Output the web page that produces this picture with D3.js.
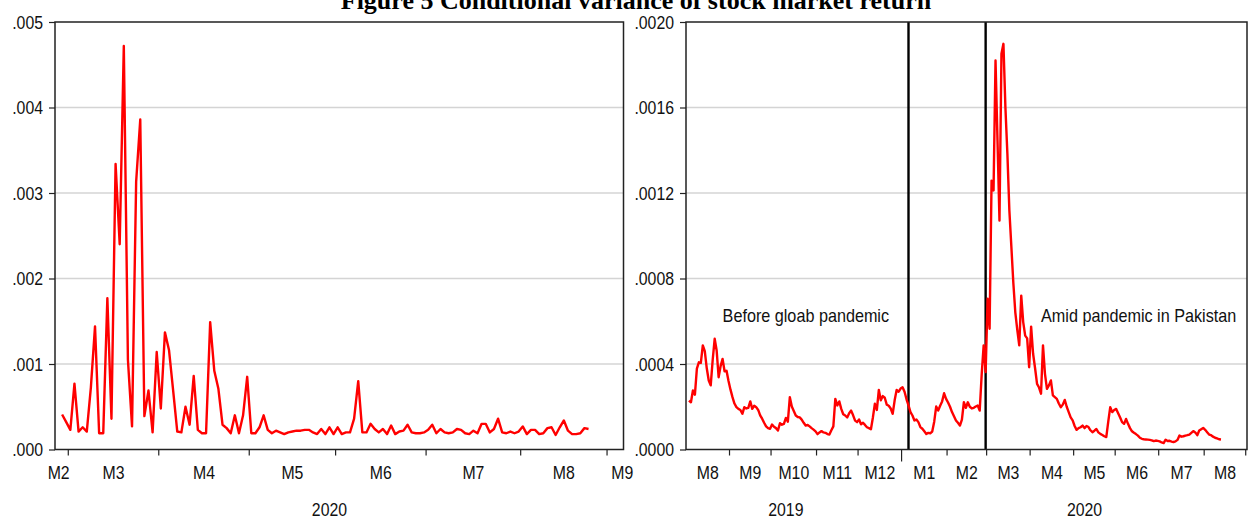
<!DOCTYPE html>
<html>
<head>
<meta charset="utf-8">
<script src="https://cdn.jsdelivr.net/npm/d3@7/dist/d3.min.js"></script>
<style>
  body { margin: 0; background: #fff; }
  svg { display: block; }
</style>
</head>
<body>
<div id="chart"></div>
<script>

// ---- data (daily values, one per trading day) ----

var chartTitle = "Figure 5 Conditional variance of stock market return";

// left panel: 2020, starts Thu 27 Feb
var leftStart = "2020-02-27";
var leftValues = [
	.00041, .00032, .00023, .00077, .00021, .00026, .00021, .00073, .00144, .00019,
	.00019, .00177, .00036, .00334, .00240, .00472, .00105, .00027, .00313, .00386,
	.00039, .00069, .00020, .00114, .00048, .00137, .00116, .00069, .00021, .00020,
	.00050, .00029, .00086, .00023, .00019, .00019, .00149, .00092, .00071, .00029,
	.00025, .00019, .00040, .00019, .00040, .00085, .00019, .00019, .00026, .00040,
	.00023, .00019, .00022, .00020, .00018, .00020, .00021, .00022, .00022, .00023,
	.00023, .00020, .00018, .00024, .00018, .00026, .00018, .00026, .00018, .00020,
	.00020, .00036, .00080, .00020, .00020, .00030, .00024, .00020, .00024, .00018,
	.00028, .00018, .00021, .00022, .00029, .00020, .00019, .00019, .00020, .00023,
	.00029, .00019, .00024, .00020, .00019, .00020, .00024, .00023, .00019, .00018,
	.00022, .00019, .00030, .00030, .00020, .00024, .00036, .00020, .00019, .00021,
	.00019, .00021, .00027, .00018, .00023, .00023, .00018, .00019, .00025, .00026,
	.00017, .00026, .00034, .00022, .00018, .00018, .00019, .00025, .00024
];
var leftMonthLabels = ["M2", "M3", "M4", "M5", "M6", "M7", "M8", "M9"];
var leftYTicks = [0, .001, .002, .003, .004, .005];
var leftYearLabels = [{ text: "2020", date: "2020-05-28" }];

// right panel: Aug 2019 - Aug 2020, starts Fri 2 Aug 2019
var rightStart = "2019-08-02";
var rightValues = [
	.000229, .000221, .000276, .000256, .000378, .000408, .000405, .000487, .000460, .000380,
	.000323, .000300, .000420, .000518, .000463, .000338, .000390, .000424, .000366, .000368,
	.000320, .000280, .000245, .000215, .000198, .000190, .000185, .000167, .000198, .000192,
	.000195, .000225, .000190, .000205, .000198, .000185, .000160, .000144, .000125, .000108,
	.000100, .000097, .000117, .000106, .000100, .000089, .000123, .000116, .000120, .000148,
	.000130, .000245, .000201, .000180, .000159, .000152, .000150, .000140, .000125, .000112,
	.000115, .000108, .000100, .000093, .000085, .000072, .000080, .000086, .000080, .000078,
	.000072, .000070, .000090, .000108, .000237, .000206, .000225, .000190, .000165, .000159,
	.000150, .000170, .000182, .000160, .000135, .000128, .000140, .000118, .000125, .000115,
	.000104, .000100, .000095, .000150, .000214, .000185, .000279, .000230, .000250, .000242,
	.000210, .000205, .000192, .000167, .000230, .000279, .000270, .000285, .000291, .000270,
	.000235, .000206, .000175, .000159, .000136, .000140, .000128, .000105, .000097, .000085,
	.000073, .000078, .000076, .000084, .000130, .000201, .000182, .000205, .000225, .000263,
	.000237, .000220, .000200, .000175, .000155, .000136, .000125, .000112, .000140, .000221,
	.000195, .000221, .000200, .000192, .000195, .000201, .000206, .000182, .000350, .000487,
	.000362, .000705, .000565, .001258, .001212, .001820, .001446, .001071, .001851, .001898,
	.001600, .001383, .001118, .000950, .000780, .000642, .000560, .000487, .000720, .000596,
	.000533, .000520, .000385, .000575, .000448, .000380, .000307, .000290, .000261, .000487,
	.000354, .000284, .000300, .000323, .000253, .000245, .000237, .000215, .000198, .000210,
	.000232, .000200, .000175, .000150, .000136, .000110, .000092, .000100, .000104, .000112,
	.000100, .000110, .000105, .000090, .000081, .000088, .000096, .000080, .000073, .000068,
	.000062, .000058, .000130, .000198, .000175, .000185, .000190, .000170, .000150, .000128,
	.000120, .000143, .000120, .000100, .000085, .000078, .000072, .000065, .000055, .000050,
	.000048, .000047, .000046, .000045, .000043, .000039, .000042, .000040, .000038, .000033,
	.000030, .000046, .000040, .000041, .000037, .000035, .000038, .000045, .000065, .000060,
	.000062, .000065, .000067, .000070, .000078, .000086, .000080, .000067, .000089, .000095,
	.000101, .000092, .000081, .000070, .000067, .000060, .000055, .000052, .000048, .000047
];
var rightMonthLabels = ["M8", "M9", "M10", "M11", "M12", "M1", "M2", "M3", "M4", "M5", "M6", "M7", "M8"];
var rightYTicks = [0, .0004, .0008, .0012, .0016, .0020];
var rightYearLabels = [{ text: "2019", date: "2019-10-10" }, { text: "2020", date: "2020-05-08" }];
var rightEventDates = ["2020-01-06", "2020-02-28"];
var rightNotes = [
	{ text: "Before gloab pandemic", date: "2019-08-27", value: .000597 },
	{ text: "Amid pandemic in Pakistan", date: "2020-04-08", value: .000598 }
];


// ---- helpers ----

var W = 1249, H = 519;
var SX = 0.88;          // the figure's text is a little condensed
var FONT = "'Liberation Sans', Arial, sans-serif";
var parse = d3.timeParse("%Y-%m-%d");

function isWeekday(d) { return d.getDay() !== 0 && d.getDay() !== 6; }

// position of a date counted in trading (week) days from an origin
function tradingIndex(origin, d) {
	if (d >= origin) return d3.timeDay.range(origin, d).filter(isWeekday).length;
	return -d3.timeDay.range(d, origin).filter(isWeekday).length;
}

function addText(sel, x, y, str, anchor, sx) {
	return sel.append("text")
		.attr("transform", "translate(" + x + "," + y + ") scale(" + (sx || SX) + ",1)")
		.attr("text-anchor", anchor || "middle")
		.attr("font-family", FONT)
		.attr("font-size", 18)
		.attr("fill", "#111")
		.text(str);
}

var svg = d3.select("#chart").append("svg")
	.attr("width", W)
	.attr("height", H);

svg.append("rect").attr("width", W).attr("height", H).attr("fill", "#fff");

svg.append("text")
	.attr("x", 636)
	.attr("y", 9)
	.attr("text-anchor", "middle")
	.attr("font-family", "'Liberation Serif', 'Times New Roman', serif")
	.attr("font-weight", "bold")
	.attr("font-size", 26)
	.attr("fill", "#000")
	.text(chartTitle);


/**
 * Draws one panel: frame, grid, y axis, trading-day x axis, series
 */
function drawPanel(cfg) {

	var origin = parse(cfg.origin);
	var g = svg.append("g");

	var x = d3.scaleLinear().domain(cfg.xDomain).range([cfg.left, cfg.right]);
	var y = d3.scaleLinear().domain([0, cfg.yMax]).range([cfg.bottom, cfg.top]);

	// grid
	g.append("g").selectAll("line")
		.data(cfg.yTicks.slice(1, -1))
		.join("line")
		.attr("x1", cfg.left).attr("x2", cfg.right)
		.attr("y1", function(d){ return y(d); })
		.attr("y2", function(d){ return y(d); })
		.attr("stroke", "#d4d4d4")
		.attr("stroke-width", 1.5);

	// y axis
	var yAxis = g.append("g")
		.attr("transform", "translate(" + cfg.left + ",0)")
		.call(d3.axisLeft(y)
			.tickValues(cfg.yTicks)
			.tickSize(6)
			.tickSizeOuter(0)
			.tickFormat(function(d){ return d3.format(cfg.yFormat)(d).replace(/^0/, ""); }));
	yAxis.select(".domain").remove();
	yAxis.selectAll("line").attr("stroke", "#222").attr("stroke-width", 1.2);
	yAxis.selectAll("text")
		.attr("font-family", FONT)
		.attr("font-size", 18)
		.attr("fill", "#111")
		.attr("x", -12 / SX)
		.attr("dy", "0.34em")
		.attr("transform", "scale(" + SX + ",1)");

	// month boundaries, in trading-day units
	var months = d3.timeMonth.range(parse(cfg.firstMonth), d3.timeMonth.offset(parse(cfg.firstMonth), cfg.monthLabels.length + 1));
	var bounds = months.map(function(m){
		return { date: m, pos: tradingIndex(origin, m) - 0.5 };
	});

	var xTicks = bounds.filter(function(b){ return b.pos > cfg.xDomain[0] && b.pos <= cfg.xDomain[1]; });

	g.append("g").selectAll("line")
		.data(xTicks)
		.join("line")
		.attr("x1", function(d){ return x(d.pos); })
		.attr("x2", function(d){ return x(d.pos); })
		.attr("y1", cfg.bottom)
		.attr("y2", function(d){ return cfg.bottom + (d.date.getMonth() === 0 ? 12 : 6); })
		.attr("stroke", "#222")
		.attr("stroke-width", 1.2);

	cfg.monthLabels.forEach(function(lbl, i){
		var a = Math.max(bounds[i].pos, cfg.xDomain[0]);
		var b = Math.min(bounds[i + 1].pos, cfg.xDomain[1]);
		var cx = (x(a) + x(b)) / 2;
		if (bounds[i].pos < cfg.xDomain[0]) cx -= 3;
		if (bounds[i + 1].pos > cfg.xDomain[1]) cx += 7;
		addText(g, cx, 479, lbl);
	});

	cfg.yearLabels.forEach(function(yl){
		addText(g, x(tradingIndex(origin, parse(yl.date))), 516, yl.text);
	});

	// event lines
	(cfg.events || []).forEach(function(ev){
		var px = x(tradingIndex(origin, parse(ev)));
		g.append("line")
			.attr("x1", px).attr("x2", px)
			.attr("y1", cfg.top).attr("y2", cfg.bottom)
			.attr("stroke", "#000")
			.attr("stroke-width", 2.4);
	});

	// series
	var start = tradingIndex(origin, parse(cfg.start));
	var line = d3.line()
		.x(function(d, i){ return x(start + i); })
		.y(function(d){ return y(d); });

	g.append("path")
		.datum(cfg.values)
		.attr("d", line)
		.attr("fill", "none")
		.attr("stroke", "#ff0000")
		.attr("stroke-width", 2.4)
		.attr("stroke-linejoin", "round");

	// notes
	(cfg.notes || []).forEach(function(n){
		addText(g, x(tradingIndex(origin, parse(n.date))), y(n.value), n.text, "start", 0.9);
	});

	// frame
	g.append("rect")
		.attr("x", cfg.left).attr("y", cfg.top)
		.attr("width", cfg.right - cfg.left)
		.attr("height", cfg.bottom - cfg.top)
		.attr("fill", "none")
		.attr("stroke", "#222")
		.attr("stroke-width", 1.5);
}


drawPanel({
	left: 55, right: 623.5, top: 22, bottom: 449.5,
	origin: "2020-03-02",
	xDomain: [-3.73, 134.5],
	firstMonth: "2020-02-01",
	monthLabels: leftMonthLabels,
	yearLabels: leftYearLabels,
	yMax: .005,
	yTicks: leftYTicks,
	yFormat: ".3f",
	start: leftStart,
	values: leftValues
});

drawPanel({
	left: 686, right: 1247, top: 22, bottom: 449.5,
	origin: "2019-08-01",
	xDomain: [-0.5, 283.15],
	firstMonth: "2019-08-01",
	monthLabels: rightMonthLabels,
	yearLabels: rightYearLabels,
	yMax: .002,
	yTicks: rightYTicks,
	yFormat: ".4f",
	start: rightStart,
	values: rightValues,
	events: rightEventDates,
	notes: rightNotes
});

</script>
</body>
</html>
